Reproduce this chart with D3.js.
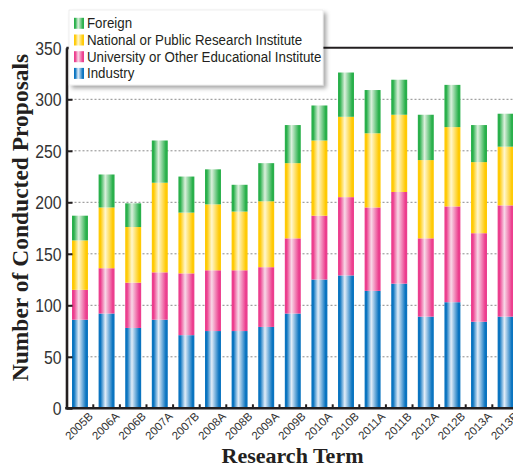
<!DOCTYPE html>
<html>
<head>
<meta charset="utf-8">
<script src="https://cdn.jsdelivr.net/npm/d3@7"></script>
<style>
  html, body { margin: 0; padding: 0; background: #fff; overflow: hidden; }
  svg { display: block; }
</style>
</head>
<body>
<svg id="chart" width="513" height="468"></svg>
<script>
// Research terms (half-year periods)
const terms = ["2005B","2006A","2006B","2007A","2007B","2008A","2008B","2009A","2009B",
               "2010A","2010B","2011A","2011B","2012A","2012B","2013A","2013B"];

// Conducted proposals per term, by affiliation of the applicant
const industry   = [86, 92, 78, 86, 71, 75, 75, 79, 92, 125, 129, 114, 121, 89, 103, 84, 89];
const university = [29, 44, 44, 46, 60, 59, 59, 58, 73, 62, 76, 81, 89, 76, 93, 86, 108];
const national   = [48, 59, 54, 87, 59, 64, 57, 64, 73, 73, 78, 72, 75, 76, 77, 69, 57];
const foreign    = [24, 32, 23, 41, 35, 34, 26, 37, 37, 34, 43, 42, 34, 44, 41, 36, 32];

// Stack order bottom to top; legend lists them top to bottom
const seriesKeys   = ["industry", "university", "national", "foreign"];
const seriesLabels = ["Industry", "University or Other Educational Institute",
                      "National or Public Research Institute", "Foreign"];
const seriesData   = [industry, university, national, foreign];

const yTicks = [0, 50, 100, 150, 200, 250, 300, 350];

// Bar shading: dark edge -> pale highlight -> dark edge
const palette = {
  industry:   { dark: "#0a74c0", light: "#e2edf8" },
  university: { dark: "#ec3e8e", light: "#f8d8e7" },
  national:   { dark: "#ffca05", light: "#fff7cf" },
  foreign:    { dark: "#29b04b", light: "#dcf0dd" }
};

const table = terms.map((t, i) => {
  const row = { term: t };
  seriesKeys.forEach((k, j) => { row[k] = seriesData[j][i]; });
  return row;
});

const svg = d3.select("#chart");
const defs = svg.append("defs");

seriesKeys.forEach(k => {
  const g = defs.append("linearGradient")
    .attr("id", "grad-" + k)
    .attr("x1", "0%").attr("x2", "100%").attr("y1", "0%").attr("y2", "0%");
  g.append("stop").attr("offset", "0%").attr("stop-color", palette[k].dark);
  g.append("stop").attr("offset", "12%").attr("stop-color", palette[k].dark);
  g.append("stop").attr("offset", "42%").attr("stop-color", palette[k].light);
  g.append("stop").attr("offset", "88%").attr("stop-color", palette[k].dark);
  g.append("stop").attr("offset", "100%").attr("stop-color", palette[k].dark);
});

const shadow = defs.append("filter").attr("id", "legend-shadow")
  .attr("x", "-10%").attr("y", "-10%").attr("width", "130%").attr("height", "140%");
shadow.append("feDropShadow").attr("dx", 3).attr("dy", 3)
  .attr("stdDeviation", 2.2).attr("flood-color", "#000").attr("flood-opacity", 0.35);

// Plot frame
const plotLeft = 66.5, plotBottom = 408.3, plotTop = 47.8, plotRight = 540;

const x = d3.scaleBand().domain(terms).range([72, 513.6]).paddingInner(0.4).paddingOuter(0);
const y = d3.scaleLinear().domain([0, 350]).range([plotBottom, plotTop]);

// Dotted grid lines
svg.append("g").selectAll("line")
  .data(yTicks.filter(v => v > 0 && v < 350))
  .join("line")
  .attr("x1", plotLeft).attr("x2", plotRight)
  .attr("y1", d => y(d)).attr("y2", d => y(d))
  .attr("stroke", "#8a8a8a").attr("stroke-width", 1)
  .attr("stroke-dasharray", "2,2");

// Stacked bars
const stacked = d3.stack().keys(seriesKeys)(table);
svg.append("g").selectAll("g")
  .data(stacked)
  .join("g")
  .attr("fill", d => "url(#grad-" + d.key + ")")
  .selectAll("rect")
  .data(d => d)
  .join("rect")
  .attr("x", d => x(d.data.term))
  .attr("width", x.bandwidth())
  .attr("y", d => y(d[1]))
  .attr("height", d => y(d[0]) - y(d[1]));

// Frame: top line, left axis, bottom axis
svg.append("line").attr("x1", plotLeft).attr("x2", plotRight)
  .attr("y1", plotTop).attr("y2", plotTop).attr("stroke", "#231f20").attr("stroke-width", 2);

const yAxis = d3.axisLeft(y).tickValues(yTicks).tickSizeInner(-6).tickSizeOuter(0).tickPadding(10);
const yg = svg.append("g").attr("transform", `translate(${plotLeft},0)`).call(yAxis);
yg.select(".domain").attr("stroke", "#231f20").attr("stroke-width", 2.6);
yg.selectAll(".tick line").attr("stroke", "#231f20").attr("stroke-width", 2);
yg.selectAll(".tick text")
  .attr("fill", "#333")
  .attr("x", -5 / 0.9)
  .attr("dy", "0.36em")
  .attr("transform", "scale(0.9,1)")
  .style("font-family", "'Liberation Sans', Arial, sans-serif")
  .style("font-size", "17.5px");

// Bottom axis with inward ticks between bars
const gap = x.step() - x.bandwidth();
const boundaries = terms.map(t => x(t) + x.bandwidth() + gap / 2);
svg.append("g").selectAll("line")
  .data(boundaries)
  .join("line")
  .attr("x1", d => d).attr("x2", d => d)
  .attr("y1", plotBottom).attr("y2", plotBottom - 4)
  .attr("stroke", "#231f20").attr("stroke-width", 2);
svg.append("line").attr("x1", plotLeft - 1.3).attr("x2", plotRight)
  .attr("y1", plotBottom).attr("y2", plotBottom).attr("stroke", "#231f20").attr("stroke-width", 2.4);

// Rotated term labels
svg.append("g").selectAll("text")
  .data(terms)
  .join("text")
  .attr("transform", d => `translate(${x(d) + x.bandwidth() / 2 - 1},426) rotate(-45)`)
  .attr("text-anchor", "middle")
  .attr("dy", "0.35em")
  .attr("fill", "#333")
  .style("font-family", "'Liberation Sans', Arial, sans-serif")
  .style("font-size", "11.5px")
  .text(d => d);

// Axis titles
svg.append("text")
  .attr("transform", "translate(28,217.5) rotate(-90)")
  .attr("text-anchor", "middle")
  .attr("fill", "#231f20")
  .style("font-family", "'Liberation Serif', 'Times New Roman', serif")
  .style("font-weight", "bold")
  .style("font-size", "23.5px")
  .text("Number of Conducted Proposals");

svg.append("text")
  .attr("x", 292.5).attr("y", 463)
  .attr("text-anchor", "middle")
  .attr("fill", "#231f20")
  .style("font-family", "'Liberation Serif', 'Times New Roman', serif")
  .style("font-weight", "bold")
  .style("font-size", "22px")
  .text("Research Term");

// Legend
const legend = svg.append("g");
legend.append("rect")
  .attr("x", 69).attr("y", 10).attr("width", 254).attr("height", 75)
  .attr("fill", "#fff").attr("stroke", "#e4e4e4").attr("stroke-width", 0.6)
  .attr("filter", "url(#legend-shadow)");

const legendOrder = [3, 2, 1, 0];
const rows = legend.selectAll("g.item")
  .data(legendOrder)
  .join("g")
  .attr("class", "item")
  .attr("transform", (d, i) => `translate(74,${28.3 + i * 16.7})`);
rows.append("rect")
  .attr("x", 0).attr("y", -10.5).attr("width", 10).attr("height", 11)
  .attr("fill", d => "url(#grad-" + seriesKeys[d] + ")");
rows.append("text")
  .attr("x", 13 / 0.9).attr("y", 0)
  .attr("transform", "scale(0.9,1)")
  .attr("fill", "#231f20")
  .style("font-family", "'Liberation Sans', Arial, sans-serif")
  .style("font-size", "14.8px")
  .text(d => seriesLabels[d]);
</script>
</body>
</html>
